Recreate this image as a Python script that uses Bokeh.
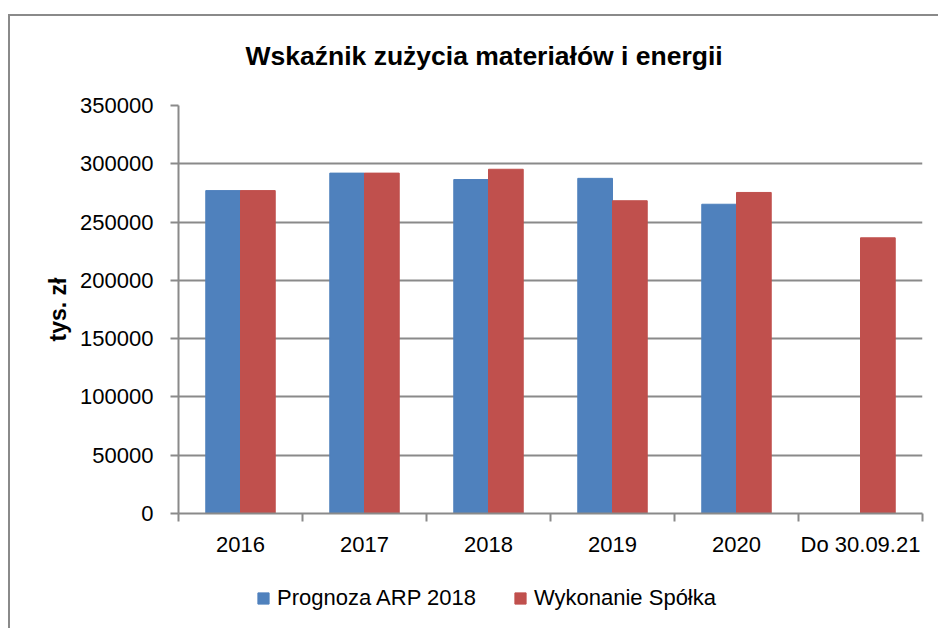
from bokeh.plotting import figure
from bokeh.layouts import column
from bokeh.models import (ColumnDataSource, FixedTicker, Legend, LegendItem, Label,
                          NumeralTickFormatter, Range1d)
from bokeh.embed import file_html
from bokeh.resources import INLINE
import numpy as np

# ---- data ----
categories = ["2016", "2017", "2018", "2019", "2020", "Do 30.09.21"]
prognoza = [277000, 292000, 286500, 287500, 265300, np.nan]
wykonanie = [277000, 292000, 295300, 268300, 275400, 236500]
y_ticks = [0, 50000, 100000, 150000, 200000, 250000, 300000, 350000]
series_names = ["Prognoza ARP 2018", "Wykonanie Spółka"]
colors = ["#4F81BD", "#C0504D"]
title_text = "Wskaźnik zużycia materiałów i energii"
y_label = "tys. zł"

FONT = "Liberation Sans"
GRAY = "#8a8a8a"

centers = np.arange(len(categories)) + 0.5
bw = 0.28


def strip(height):
    f = figure(width=928, height=height, output_backend="svg", toolbar_location=None,
               x_range=Range1d(0, 1), y_range=Range1d(0, 1),
               x_axis_location=None, y_axis_location=None,
               min_border_left=0, min_border_right=0, min_border_top=0, min_border_bottom=0)
    f.outline_line_color = None
    f.grid.visible = False
    f.border_fill_color = "white"
    f.background_fill_color = "white"
    return f


# ---- title strip ----
pt = strip(70)
pt.add_layout(Label(x=67, y=31, x_units="screen", y_units="screen", text=title_text,
                    text_font=FONT, text_font_style="bold", text_font_size="26.5px",
                    text_align="left", text_baseline="alphabetic", text_color="black"))

# ---- main chart ----
p = figure(width=928, height=484, output_backend="svg", toolbar_location=None,
           x_range=Range1d(0, len(categories)), y_range=Range1d(0, 350000),
           min_border_left=168, min_border_right=16, min_border_top=19, min_border_bottom=57)
p.outline_line_color = None
p.background_fill_color = "white"
p.border_fill_color = "white"

src_b = ColumnDataSource(dict(x=centers - bw / 2, top=prognoza))
src_r = ColumnDataSource(dict(x=centers + bw / 2, top=wykonanie))
rb = p.vbar(x="x", top="top", width=bw, bottom=0, source=src_b,
            fill_color=colors[0], line_color=colors[0])
rr = p.vbar(x="x", top="top", width=bw, bottom=0, source=src_r,
            fill_color=colors[1], line_color=colors[1])

# y axis
p.yaxis.ticker = FixedTicker(ticks=y_ticks)
p.yaxis.formatter = NumeralTickFormatter(format="0")
p.yaxis.major_tick_out = 8
p.yaxis.major_tick_in = 0
p.yaxis.minor_tick_out = 0
p.yaxis.minor_tick_in = 0
p.yaxis.axis_line_color = GRAY
p.yaxis.axis_line_width = 2
p.yaxis.major_tick_line_color = GRAY
p.yaxis.major_tick_line_width = 2
p.yaxis.major_label_text_font = FONT
p.yaxis.major_label_text_font_size = "22px"
p.yaxis.major_label_text_color = "black"
p.yaxis.major_label_standoff = 17
p.yaxis.axis_label = y_label
p.yaxis.axis_label_text_font = FONT
p.yaxis.axis_label_text_font_style = "bold"
p.yaxis.axis_label_text_font_size = "23px"
p.yaxis.axis_label_text_color = "black"
p.yaxis.axis_label_standoff = 6

# x axis
p.xaxis.ticker = FixedTicker(ticks=list(centers), minor_ticks=list(range(len(categories) + 1)))
p.xaxis.major_label_overrides = {float(c): lab for c, lab in zip(centers, categories)}
p.xaxis.major_tick_out = 0
p.xaxis.major_tick_in = 0
p.xaxis.minor_tick_out = 8
p.xaxis.minor_tick_in = 0
p.xaxis.minor_tick_line_color = GRAY
p.xaxis.minor_tick_line_width = 2
p.xaxis.axis_line_color = GRAY
p.xaxis.axis_line_width = 2
p.xaxis.major_label_text_font = FONT
p.xaxis.major_label_text_font_size = "22px"
p.xaxis.major_label_text_color = "black"
p.xaxis.major_label_standoff = 10

p.xgrid.visible = False
p.ygrid.grid_line_color = GRAY
p.ygrid.grid_line_width = 2

# ---- legend strip ----
pl = strip(58)
swatch = ColumnDataSource(dict(x=[np.nan], top=[np.nan]))
lb = pl.vbar(x="x", top="top", width=0.1, source=swatch, fill_color=colors[0], line_color=colors[0])
lr = pl.vbar(x="x", top="top", width=0.1, source=swatch, fill_color=colors[1], line_color=colors[1])
legend = Legend(items=[LegendItem(label=series_names[0], renderers=[lb]),
                       LegendItem(label=series_names[1], renderers=[lr])],
                orientation="horizontal", location=(78, 17),
                glyph_width=14, glyph_height=14, label_standoff=7, spacing=37,
                padding=0, margin=0, border_line_color=None, background_fill_alpha=0,
                label_text_font=FONT, label_text_font_size="22px", label_text_color="black")
pl.add_layout(legend, "center")

layout = column(pt, p, pl, spacing=0, margin=(14, 0, 0, 8),
                styles={"border-left": "2px solid #8a8a8a", "border-top": "2px solid #8a8a8a"})

open("out.html", "w").write(file_html(layout, INLINE))
